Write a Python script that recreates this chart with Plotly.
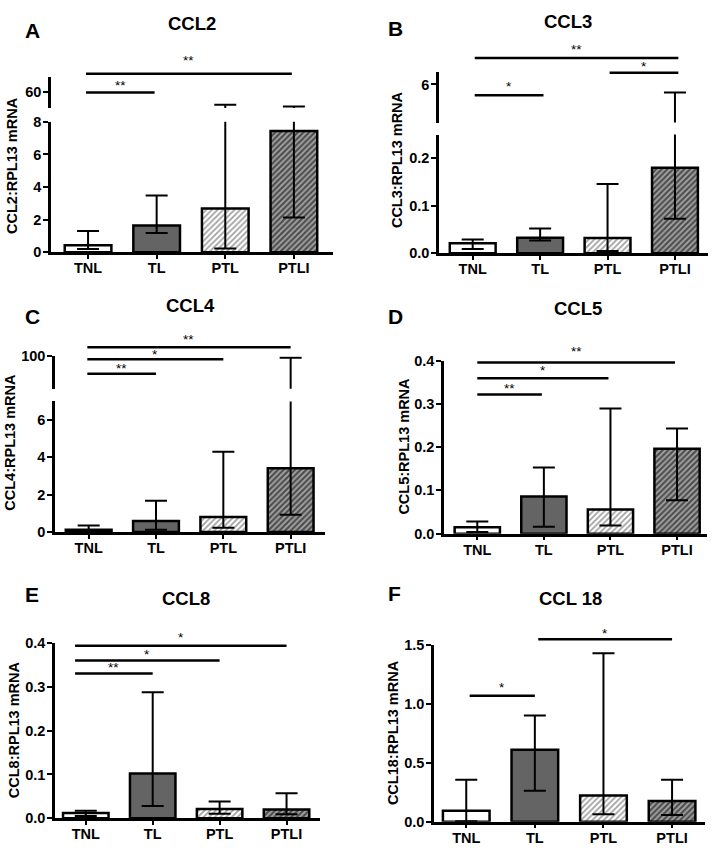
import plotly.graph_objects as go

W, H = 714, 852
FONT = "Liberation Sans, Arial, Helvetica, sans-serif"

# ---------------- data (median with interquartile range) ----------------
categories = ["TNL", "TL", "PTL", "PTLI"]

ccl2_median = [0.44, 1.64, 2.68, 7.44]
ccl2_lower = [0.20, 1.18, 0.24, 2.14]
ccl2_upper = [1.30, 3.48, 52.0, 51.0]

ccl3_median = [0.021, 0.033, 0.032, 0.180]
ccl3_lower = [0.009, 0.027, 0.005, 0.073]
ccl3_upper = [0.029, 0.052, 0.146, 5.37]

ccl4_median = [0.12, 0.59, 0.80, 3.42]
ccl4_lower = [0.05, 0.12, 0.23, 0.93]
ccl4_upper = [0.35, 1.67, 4.30, 99.0]

ccl5_median = [0.015, 0.086, 0.056, 0.196]
ccl5_lower = [0.004, 0.016, 0.019, 0.077]
ccl5_upper = [0.028, 0.153, 0.289, 0.243]

ccl8_median = [0.012, 0.102, 0.021, 0.020]
ccl8_lower = [0.005, 0.028, 0.010, 0.009]
ccl8_upper = [0.017, 0.288, 0.038, 0.057]

ccl18_median = [0.092, 0.610, 0.222, 0.175]
ccl18_lower = [0.005, 0.263, 0.064, 0.058]
ccl18_upper = [0.355, 0.900, 1.428, 0.355]

# significance comparisons: (group i, group j, label)
ccl2_sig = [(0, 3, "**"), (0, 1, "**")]
ccl3_sig = [(0, 3, "**"), (2, 3, "*"), (0, 1, "*")]
ccl4_sig = [(0, 3, "**"), (0, 2, "*"), (0, 1, "**")]
ccl5_sig = [(0, 3, "**"), (0, 2, "*"), (0, 1, "**")]
ccl8_sig = [(0, 3, "*"), (0, 2, "*"), (0, 1, "**")]
ccl18_sig = [(1, 3, "*"), (0, 1, "*")]

# ---------------- styles ----------------
bar_colors = ["#ffffff", "#646464", "#ffffff", "#4e4e4e"]
pattern_shapes = ["", "", "/", "/"]
pattern_bg = ["#ffffff", "#646464", "#ffffff", "#4e4e4e"]
pattern_fg = ["#ffffff", "#646464", "#6e6e6e", "#1c1c1c"]


def px(x):
    return x / W


def py(y):
    return 1 - y / H


panels = [
    dict(letter="A", title="CCL2", ytitle="CCL2:RPL13 mRNA",
         med=ccl2_median, lo=ccl2_lower, hi=ccl2_upper, sig=ccl2_sig,
         xdom=(51, 333), xr=[-0.54, 3.57],
         low=(116, 249), lowr=[0, 8], lowt=[0, 2, 4, 6, 8], fmt="d",
         up=(70, 102), upr=[50, 69], upt=[60],
         sig_y=[67, 86], star_y=[54, 79], sig_off=(-0.03, -0.03),
         title_xy=(191.5, 16), letter_xy=(32, 23), ytitle_xy=(12, 161)),
    dict(letter="B", title="CCL3", ytitle="CCL3:RPL13 mRNA",
         med=ccl3_median, lo=ccl3_lower, hi=ccl3_upper, sig=ccl3_sig,
         xdom=(439, 708), xr=[-0.5, 3.49],
         low=(129, 250), lowr=[0, 0.25], lowt=[0, 0.1, 0.2], fmt=".1f",
         up=(65, 116.7), upr=[3, 7], upt=[6],
         sig_y=[51, 66, 89], star_y=[42, 60, 80], sig_off=(0.03, 0.05),
         title_xy=(568, 13.5), letter_xy=(395, 21), ytitle_xy=(397, 155)),
    dict(letter="C", title="CCL4", ytitle="CCL4:RPL13 mRNA",
         med=ccl4_median, lo=ccl4_lower, hi=ccl4_upper, sig=ccl4_sig,
         xdom=(55, 325), xr=[-0.5, 3.51],
         low=(401, 534), lowr=[0, 7], lowt=[0, 2, 4, 6], fmt="d",
         up=(355, 388), upr=[75, 100], upt=[100],
         sig_y=[345.7, 358, 372.7], star_y=[338, 353, 367], sig_off=(-0.02, 0.0),
         title_xy=(190, 303.5), letter_xy=(32, 314), ytitle_xy=(10, 443)),
    dict(letter="D", title="CCL5", ytitle="CCL5:RPL13 mRNA",
         med=ccl5_median, lo=ccl5_lower, hi=ccl5_upper, sig=ccl5_sig,
         xdom=(444, 707), xr=[-0.5, 3.45],
         low=(359.3, 535.7), lowr=[0, 0.4], lowt=[0, 0.1, 0.2, 0.3, 0.4], fmt=".1f",
         up=None,
         sig_y=[361.3, 377.3, 394], star_y=[350, 369, 388], sig_off=(0.0, -0.03),
         title_xy=(578, 306.5), letter_xy=(395, 314), ytitle_xy=(404, 447)),
    dict(letter="E", title="CCL8", ytitle="CCL8:RPL13 mRNA",
         med=ccl8_median, lo=ccl8_lower, hi=ccl8_upper, sig=ccl8_sig,
         xdom=(55, 320), xr=[-0.46, 3.5],
         low=(647.3, 825.7), lowr=[0, 0.4], lowt=[0, 0.1, 0.2, 0.3, 0.4], fmt=".1f",
         up=None,
         sig_y=[650, 665, 678.3], star_y=[642, 659, 672], sig_off=(-0.16, 0.0),
         title_xy=(186, 601.5), letter_xy=(32, 598), ytitle_xy=(14, 736)),
    dict(letter="F", title="CCL 18", ytitle="CCL18:RPL13 mRNA",
         med=ccl18_median, lo=ccl18_lower, hi=ccl18_upper, sig=ccl18_sig,
         xdom=(434, 705), xr=[-0.47, 3.48],
         low=(649, 829.3), lowr=[0, 1.5], lowt=[0, 0.5, 1.0, 1.5], fmt=".1f",
         up=None,
         sig_y=[643.3, 701], star_y=[637, 692], sig_off=(0.05, 0.0),
         title_xy=(570, 601.5), letter_xy=(394, 597), ytitle_xy=(393, 739)),
]

fig = go.Figure()
layout = dict(
    width=W, height=H, margin=dict(l=0, r=0, t=0, b=0),
    paper_bgcolor="white", plot_bgcolor="white", showlegend=False,
    font=dict(family=FONT, color="black"),
)
shapes, annotations = [], []

tickfont = dict(family=FONT, size=14.5, color="black", weight="bold")
yaxis_count = 0


def yaxis_style(dom, rng, tv, fmt, anchor):
    return dict(
        domain=[py(dom[1]), py(dom[0])], range=rng, tickvals=tv,
        tickformat=fmt, anchor=anchor, showline=True, linewidth=2.5,
        linecolor="black", ticks="outside", ticklen=5, tickwidth=2,
        tickcolor="black", showgrid=False, zeroline=False,
        tickfont=tickfont, fixedrange=True, ticklabelstandoff=-1,
    )


for k, p in enumerate(panels, start=1):
    xname = "x" if k == 1 else f"x{k}"
    xkey = "xaxis" if k == 1 else f"xaxis{k}"
    yaxis_count += 1
    ylow = "y" if yaxis_count == 1 else f"y{yaxis_count}"
    ylowkey = "yaxis" if yaxis_count == 1 else f"yaxis{yaxis_count}"
    layout[ylowkey] = yaxis_style(p["low"], p["lowr"], p["lowt"], p["fmt"], xname)
    layout[xkey] = dict(
        domain=[px(p["xdom"][0]), px(p["xdom"][1])], range=p["xr"],
        type="category", categoryorder="array", categoryarray=categories,
        anchor=ylow, showline=True, linewidth=2.5, linecolor="black",
        ticks="outside", ticklen=4, tickwidth=2, tickcolor="black",
        showgrid=False, tickfont=tickfont, fixedrange=True,
        ticklabelstandoff=-3,
    )
    yrefs = [ylow]
    if p["up"] is not None:
        yaxis_count += 1
        yup = f"y{yaxis_count}"
        layout[f"yaxis{yaxis_count}"] = yaxis_style(p["up"], p["upr"], p["upt"], "d", xname)
        yrefs.append(yup)

    err_plus = [h - m for h, m in zip(p["hi"], p["med"])]
    err_minus = [m - l for m, l in zip(p["med"], p["lo"])]
    for yr in yrefs:
        fig.add_trace(go.Bar(
            x=categories, y=p["med"], xaxis=xname, yaxis=yr, width=0.68,
            marker=dict(
                color=bar_colors,
                line=dict(color="black", width=2.5),
                pattern=dict(shape=pattern_shapes, bgcolor=pattern_bg,
                             fgcolor=pattern_fg, size=4, solidity=0.45),
            ),
            error_y=dict(type="data", symmetric=False, array=err_plus,
                         arrayminus=err_minus, color="black", thickness=2,
                         width=11),
            hoverinfo="skip",
        ))

    # significance brackets
    o0, o1 = p["sig_off"]
    for (i, j, lab), ly, sy in zip(p["sig"], p["sig_y"], p["star_y"]):
        shapes.append(dict(type="line", xref=xname, yref="paper",
                           x0=i + o0, x1=j + o1, y0=py(ly), y1=py(ly),
                           line=dict(color="black", width=2.5)))
        annotations.append(dict(text=lab, xref=xname, yref="paper",
                                x=(i + j) / 2 + (o0 + o1) / 2, y=py(sy),
                                xanchor="center", yanchor="middle",
                                showarrow=False,
                                font=dict(family=FONT, size=13.5, color="black")))

    tx, ty = p["title_xy"]
    annotations.append(dict(text=p["title"], xref="paper", yref="paper",
                            x=px(tx), y=py(ty), xanchor="center", yanchor="middle",
                            showarrow=False,
                            font=dict(family=FONT, size=18.5, color="black", weight="bold")))
    lx, ly2 = p["letter_xy"]
    annotations.append(dict(text=p["letter"], xref="paper", yref="paper",
                            x=px(lx), y=py(ly2), xanchor="center", yanchor="middle",
                            showarrow=False,
                            font=dict(family=FONT, size=21, color="black", weight="bold")))
    yx, yy = p["ytitle_xy"]
    annotations.append(dict(text=p["ytitle"], xref="paper", yref="paper",
                            x=px(yx), y=py(yy), xanchor="center", yanchor="middle",
                            textangle=-90, showarrow=False,
                            font=dict(family=FONT, size=14.5, color="black", weight="bold")))

layout["shapes"] = shapes
layout["annotations"] = annotations
fig.update_layout(**layout)
fig.write_html(
    "out.html",
    config={"displayModeBar": False},
    post_script="document.body.style.margin='0px';document.body.style.padding='0px';",
)
